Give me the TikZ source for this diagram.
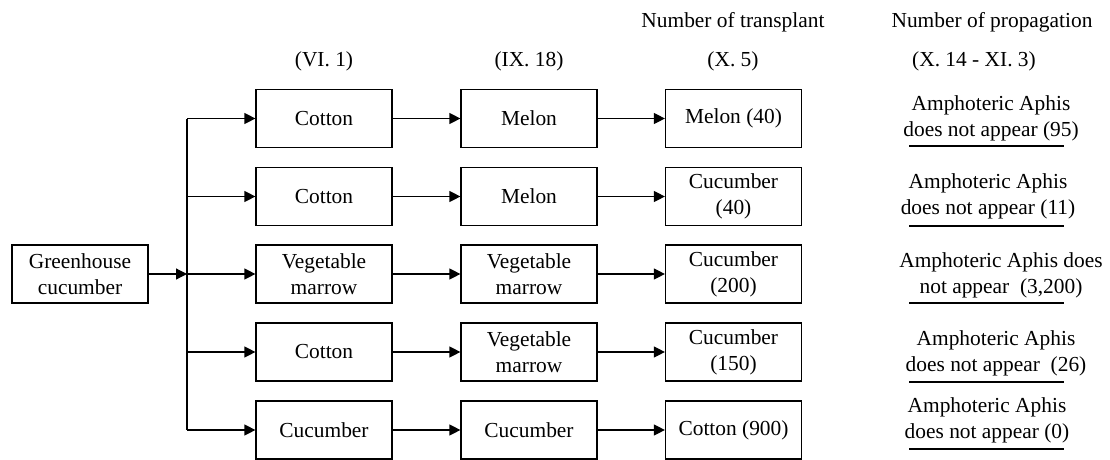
\documentclass[tikz,border=0pt]{standalone}
\usepackage{fontspec}
\setmainfont{Liberation Serif}
\usetikzlibrary{arrows.meta}
\begin{document}
\begin{tikzpicture}[x=1pt,y=-1pt,
  every node/.style={font=\fontsize{21.4}{26}\selectfont, inner sep=0pt},
  cropbox/.style={draw, line width=1.2pt, minimum width=136pt, minimum height=58pt, align=center},
  label/.style={align=center},
  flow/.style={line width=1.2pt, -{Triangle[length=11pt,width=11pt]}},
  rule/.style={line width=1.2pt}]
\useasboundingbox (0,0) rectangle (1110,460);

% column headings
\node (hT) at (733,22) {Number of transplant};
\node (hP) at (992,22) {Number of propagation};
\node (d1) at (324,61) {(VI. 1)};
\node (d2) at (529,61) {(IX. 18)};
\node (d3) at (733,61) {(X. 5)};
\node (d4) at (974,61) {(X. 14 - XI. 3)};

% source
\node[cropbox] (src) at (80,274) {Greenhouse\\cucumber};
\coordinate (hub) at (187,274);

% rotation sequences
\node[cropbox] (a1) at (324,118.5) {Cotton};
\node[cropbox] (b1) at (529,118.5) {Melon};
\node[cropbox] (c1) at (733.5,118.5) {Melon (40)};

\node[cropbox] (a2) at (324,196.5) {Cotton};
\node[cropbox] (b2) at (529,196.5) {Melon};
\node[cropbox] (c2) at (733.5,196.5) {Cucumber\\(40)};

\node[cropbox] (a3) at (324,274) {Vegetable\\marrow};
\node[cropbox] (b3) at (529,274) {Vegetable\\marrow};
\node[cropbox] (c3) at (733.5,274) {Cucumber\\(200)};

\node[cropbox] (a4) at (324,352) {Cotton};
\node[cropbox] (b4) at (529,352) {Vegetable\\marrow};
\node[cropbox] (c4) at (733.5,352) {Cucumber\\(150)};

\node[cropbox] (a5) at (324,430) {Cucumber};
\node[cropbox] (b5) at (529,430) {Cucumber};
\node[cropbox] (c5) at (733.5,430) {Cotton (900)};

% outcomes
\node[label] (r1) at (991,118) {Amphoteric Aphis\\does not appear (95)};
\node[label] (r2) at (988,196.5) {Amphoteric Aphis\\does not appear (11)};
\node[label] (r3) at (1001,275) {Amphoteric Aphis does\\not appear\ \ (3,200)};
\node[label] (r4) at (996,353) {Amphoteric Aphis\\does not appear\ \ (26)};
\node[label] (r5) at (987,420.5) {Amphoteric Aphis\\does not appear (0)};

\foreach \y in {146,226,303,382,449}
  \draw[rule] (909,\y) -- (1064,\y);

% connectors
\draw[flow] (src.east) -- (hub);
\draw[line width=1.2pt] (hub |- a1.west) -- (hub |- a5.west);
\foreach \r in {1,...,5}{
  \draw[flow] (hub |- a\r.west) -- (a\r.west);
  \draw[flow] (a\r.east) -- (b\r.west);
  \draw[flow] (b\r.east) -- (c\r.west);
}
\end{tikzpicture}
\end{document}
